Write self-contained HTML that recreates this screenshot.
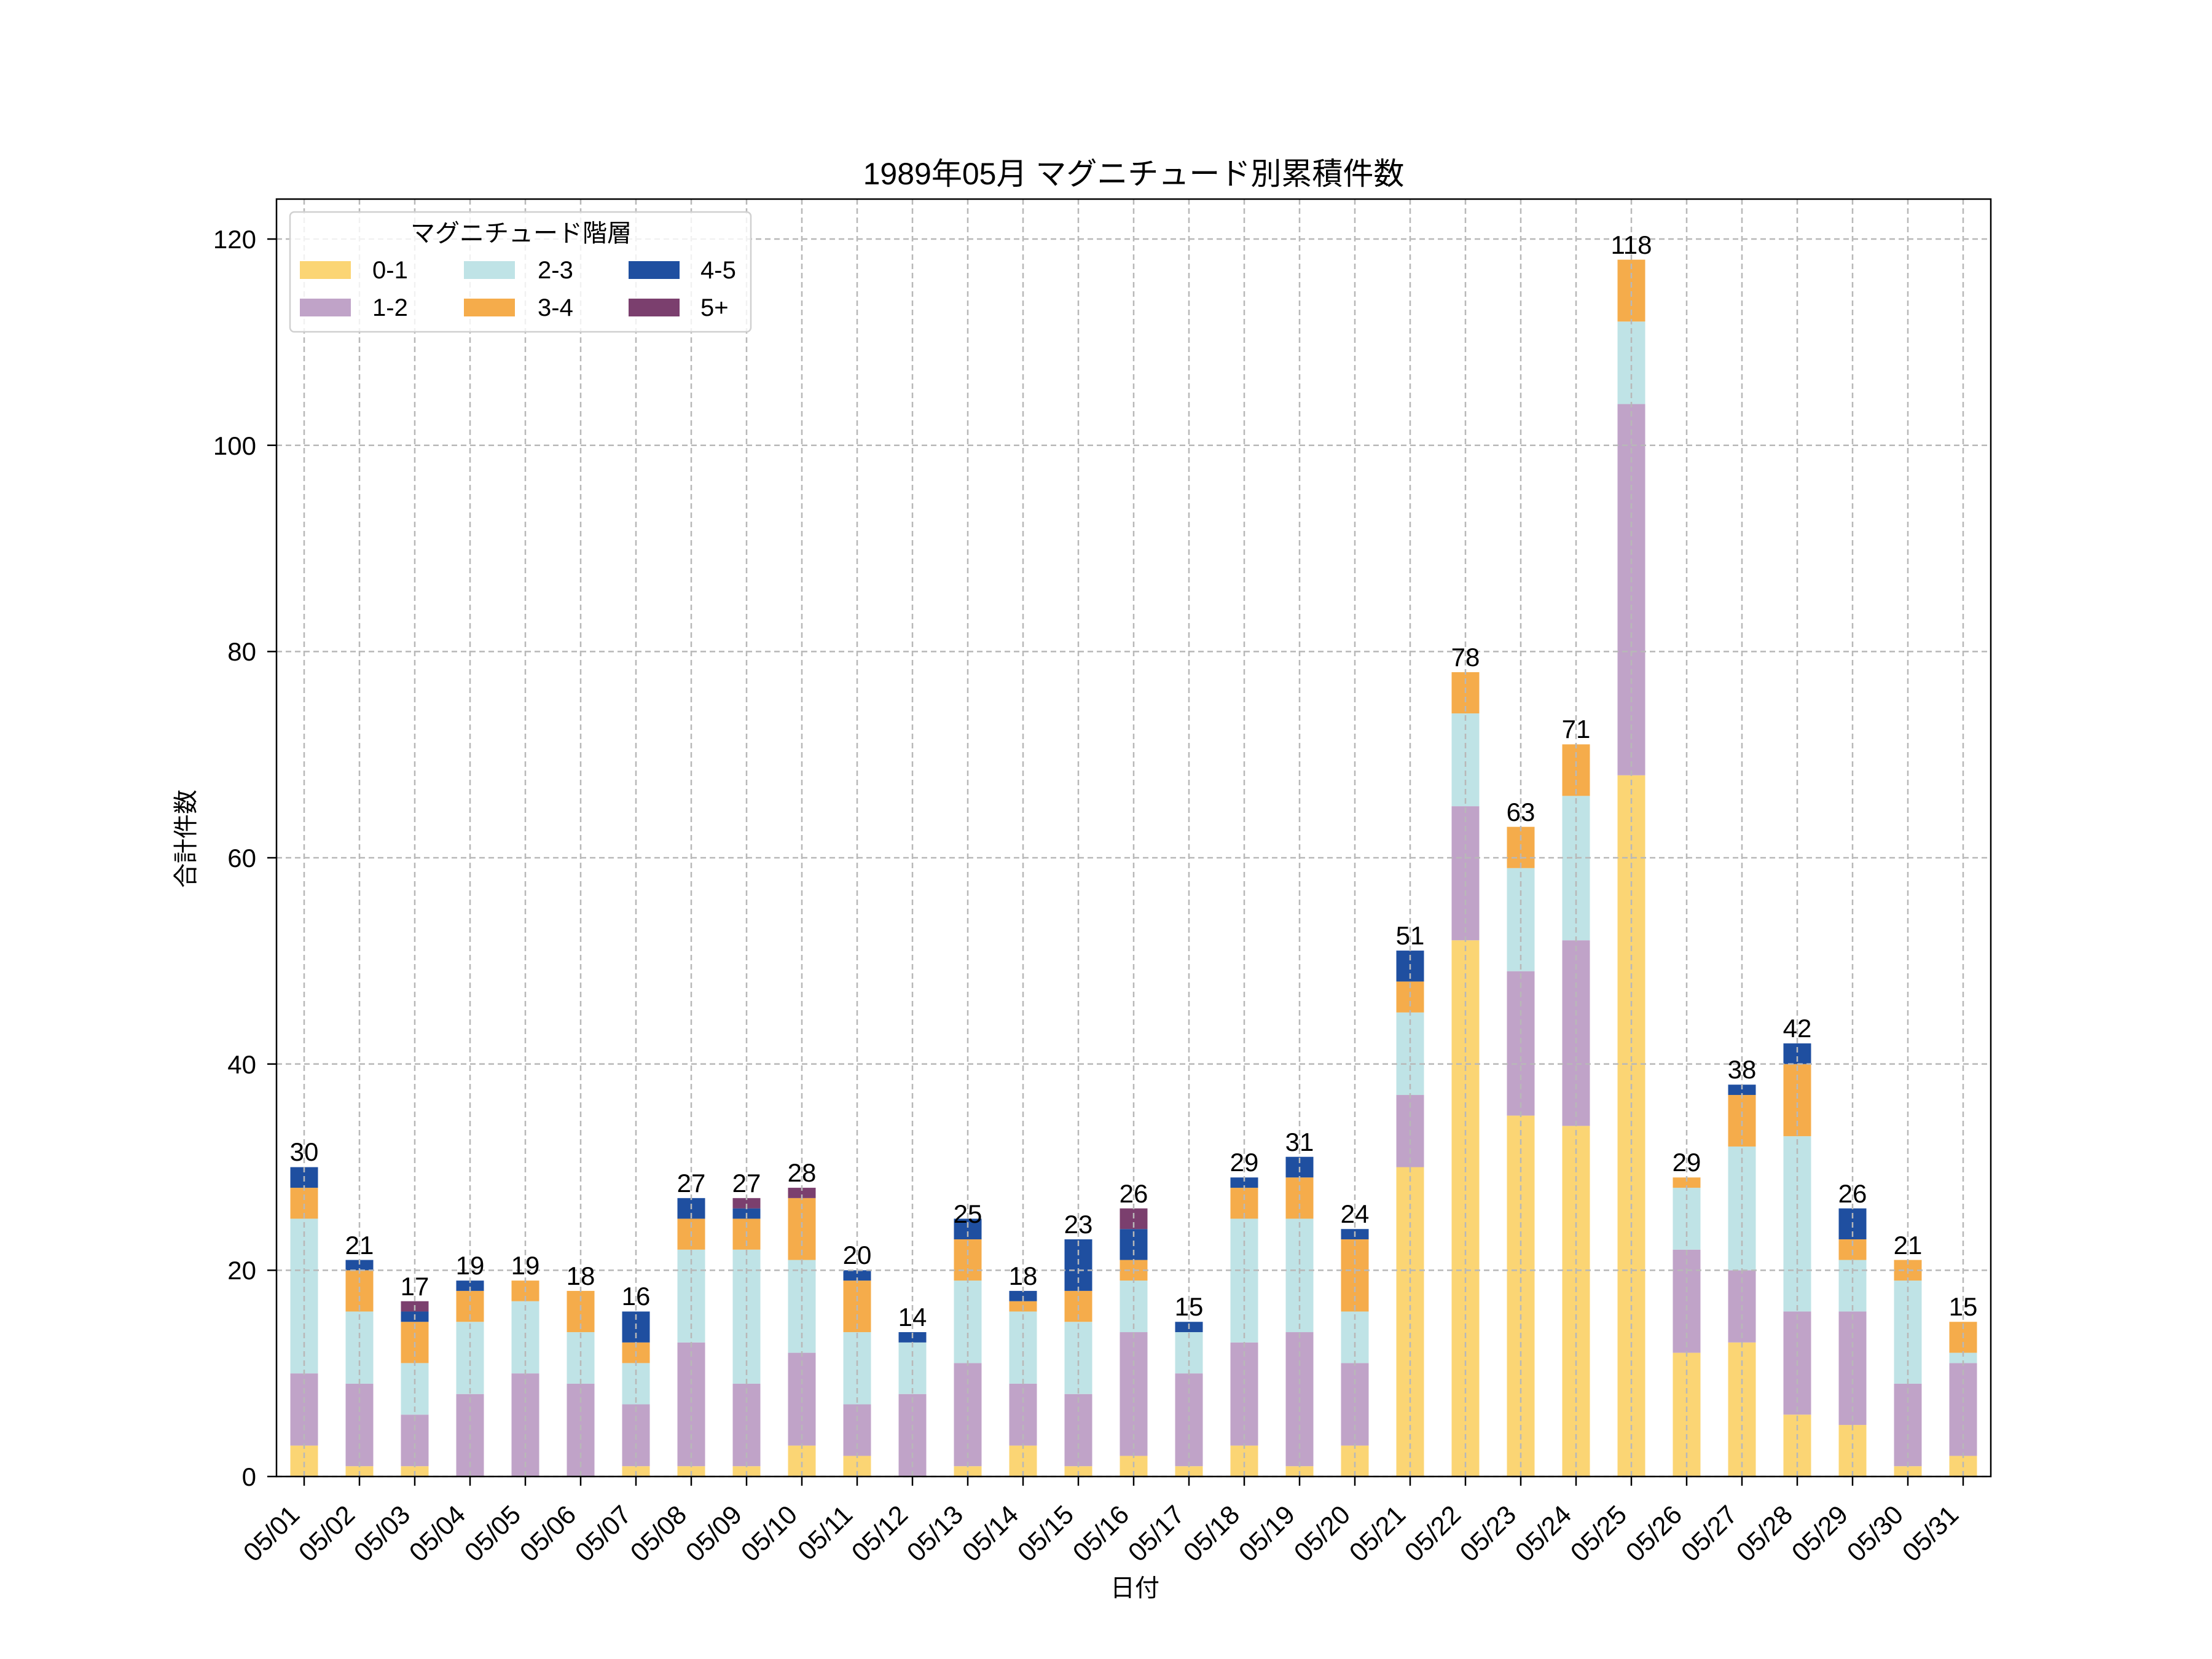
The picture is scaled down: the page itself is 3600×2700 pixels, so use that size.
<!DOCTYPE html>
<html><head><meta charset="utf-8"><style>
html,body{margin:0;padding:0;background:#fff;}
svg{display:block;font-family:"Liberation Sans","Noto Sans CJK JP",sans-serif;}
</style></head><body>
<svg id="s" width="3600" height="2700" viewBox="0 0 3600 2700" xmlns="http://www.w3.org/2000/svg">
<rect width="3600" height="2700" fill="#fff"/>
<g id="bars"></g>
<g id="grid" stroke="#b8b8b8" stroke-width="2.5" stroke-dasharray="9,6" fill="none"></g>
<rect x="450" y="324" width="2790" height="2079" fill="none" stroke="#000" stroke-width="2.5"/>
<g id="ticks" stroke="#000" stroke-width="2.5"></g>
<g font-size="42" text-anchor="end" fill="#000">
<text x="417" y="2418">0</text>
<text x="417" y="2082">20</text>
<text x="417" y="1747">40</text>
<text x="417" y="1411">60</text>
<text x="417" y="1075">80</text>
<text x="417" y="740">100</text>
<text x="417" y="404">120</text>
</g>
<g font-size="43" text-anchor="end" fill="#000">
<text transform="translate(490,2468) rotate(-45)">05/01</text>
<text transform="translate(580,2468) rotate(-45)">05/02</text>
<text transform="translate(670,2468) rotate(-45)">05/03</text>
<text transform="translate(760,2468) rotate(-45)">05/04</text>
<text transform="translate(850,2468) rotate(-45)">05/05</text>
<text transform="translate(940,2468) rotate(-45)">05/06</text>
<text transform="translate(1030,2468) rotate(-45)">05/07</text>
<text transform="translate(1120,2468) rotate(-45)">05/08</text>
<text transform="translate(1210,2468) rotate(-45)">05/09</text>
<text transform="translate(1300,2468) rotate(-45)">05/10</text>
<text transform="translate(1390,2468) rotate(-45)">05/11</text>
<text transform="translate(1480,2468) rotate(-45)">05/12</text>
<text transform="translate(1570,2468) rotate(-45)">05/13</text>
<text transform="translate(1660,2468) rotate(-45)">05/14</text>
<text transform="translate(1750,2468) rotate(-45)">05/15</text>
<text transform="translate(1840,2468) rotate(-45)">05/16</text>
<text transform="translate(1930,2468) rotate(-45)">05/17</text>
<text transform="translate(2020,2468) rotate(-45)">05/18</text>
<text transform="translate(2110,2468) rotate(-45)">05/19</text>
<text transform="translate(2200,2468) rotate(-45)">05/20</text>
<text transform="translate(2290,2468) rotate(-45)">05/21</text>
<text transform="translate(2380,2468) rotate(-45)">05/22</text>
<text transform="translate(2470,2468) rotate(-45)">05/23</text>
<text transform="translate(2560,2468) rotate(-45)">05/24</text>
<text transform="translate(2650,2468) rotate(-45)">05/25</text>
<text transform="translate(2740,2468) rotate(-45)">05/26</text>
<text transform="translate(2830,2468) rotate(-45)">05/27</text>
<text transform="translate(2920,2468) rotate(-45)">05/28</text>
<text transform="translate(3010,2468) rotate(-45)">05/29</text>
<text transform="translate(3100,2468) rotate(-45)">05/30</text>
<text transform="translate(3190,2468) rotate(-45)">05/31</text>
</g>
<g id="lbl" font-size="42" text-anchor="middle" fill="#000">
<text x="495" y="1889">30</text>
<text x="585" y="2041">21</text>
<text x="675" y="2108">17</text>
<text x="765" y="2074">19</text>
<text x="855" y="2074">19</text>
<text x="945" y="2091">18</text>
<text x="1035" y="2124">16</text>
<text x="1125" y="1940">27</text>
<text x="1215" y="1940">27</text>
<text x="1305" y="1923">28</text>
<text x="1395" y="2057">20</text>
<text x="1485" y="2158">14</text>
<text x="1575" y="1990">25</text>
<text x="1665" y="2091">18</text>
<text x="1755" y="2007">23</text>
<text x="1845" y="1957">26</text>
<text x="1935" y="2141">15</text>
<text x="2025" y="1906">29</text>
<text x="2115" y="1873">31</text>
<text x="2205" y="1990">24</text>
<text x="2295" y="1537">51</text>
<text x="2385" y="1084">78</text>
<text x="2475" y="1336">63</text>
<text x="2565" y="1201">71</text>
<text x="2655" y="413">118</text>
<text x="2745" y="1906">29</text>
<text x="2835" y="1755">38</text>
<text x="2925" y="1688">42</text>
<text x="3015" y="1957">26</text>
<text x="3105" y="2041">21</text>
<text x="3195" y="2141">15</text>
</g>
<text x="1845" y="300" font-size="50" text-anchor="middle">1989年05月 マグニチュード別累積件数</text>
<text x="1847" y="2598" font-size="40" text-anchor="middle">日付</text>
<text transform="translate(316,1365) rotate(-90)" font-size="40" text-anchor="middle">合計件数</text>
<g>
<rect x="472" y="345" width="750" height="195" rx="7" fill="#fff" fill-opacity="0.8" stroke="#d0d0d0" stroke-width="2.5"/>
<text x="848" y="393" font-size="40" text-anchor="middle">マグニチュード階層</text>
<rect x="488" y="425" width="83" height="29" fill="#FBD574"/>
<rect x="488" y="486" width="83" height="29" fill="#C0A3C8"/>
<rect x="755" y="425" width="83" height="29" fill="#BFE3E6"/>
<rect x="755" y="486" width="83" height="29" fill="#F5AC4B"/>
<rect x="1023" y="425" width="83" height="29" fill="#1F4FA0"/>
<rect x="1023" y="486" width="83" height="29" fill="#7B3F6E"/>
<g font-size="40"><text x="606" y="453">0-1</text><text x="606" y="514">1-2</text>
<text x="875" y="453">2-3</text><text x="875" y="514">3-4</text>
<text x="1140" y="453">4-5</text><text x="1140" y="514">5+</text></g>
</g>
</svg>
<script>
var D=[[3,7,15,3,2,0],[1,8,7,4,1,0],[1,5,5,4,1,1],[0,8,7,3,1,0],[0,10,7,2,0,0],[0,9,5,4,0,0],[1,6,4,2,3,0],[1,12,9,3,2,0],[1,8,13,3,1,1],[3,9,9,6,0,1],[2,5,7,5,1,0],[0,8,5,0,1,0],[1,10,8,4,2,0],[3,6,7,1,1,0],[1,7,7,3,5,0],[2,12,5,2,3,2],[1,9,4,0,1,0],[3,10,12,3,1,0],[1,13,11,4,2,0],[3,8,5,7,1,0],[30,7,8,3,3,0],[52,13,9,4,0,0],[35,14,10,4,0,0],[34,18,14,5,0,0],[68,36,8,6,0,0],[12,10,6,1,0,0],[13,7,12,5,1,0],[6,10,17,7,2,0],[5,11,5,2,3,0],[1,8,10,2,0,0],[2,9,1,3,0,0]];
var C=["#FBD574","#C0A3C8","#BFE3E6","#F5AC4B","#1F4FA0","#7B3F6E"];
var ns="http://www.w3.org/2000/svg",b=document.getElementById("bars"),g=document.getElementById("grid"),t=document.getElementById("ticks");
var U=16.783;function Y(v){return 2403-U*v;}
function el(p,n,a){var e=document.createElementNS(ns,n);for(var k in a)e.setAttribute(k,a[k]);p.appendChild(e);}
for(var i=0;i<31;i++){var cx=495+90*i,c=0;
for(var j=0;j<6;j++){var v=D[i][j];if(v>0){el(b,"rect",{x:cx-22.5,y:Y(c+v),width:45,height:U*v,fill:C[j]});}c+=v;}
el(g,"line",{x1:cx,x2:cx,y1:324,y2:2403});el(t,"line",{x1:cx,x2:cx,y1:2403,y2:2418});}
for(var k=0;k<=120;k+=20){el(g,"line",{x1:450,x2:3240,y1:Y(k),y2:Y(k)});el(t,"line",{x1:435,x2:450,y1:Y(k),y2:Y(k)});}
</script>
</body></html>
